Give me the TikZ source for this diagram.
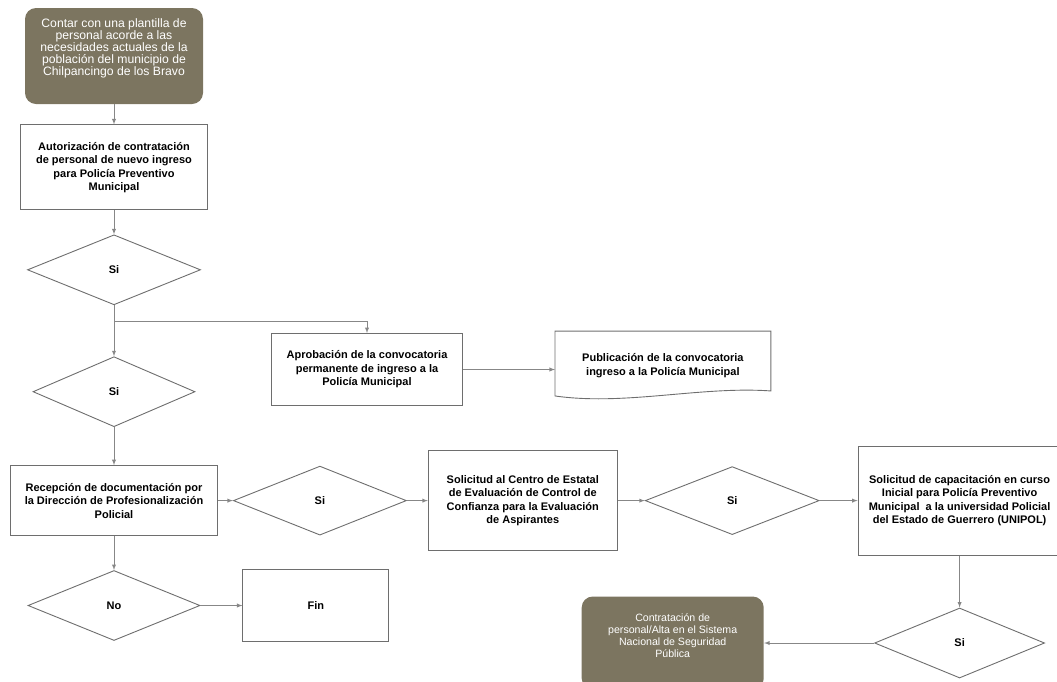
\documentclass[tikz,border=0pt]{standalone}
\usepackage{fontspec}
\setmainfont{Liberation Sans}
\usetikzlibrary{positioning,shapes.geometric}

\definecolor{oliva}{RGB}{124,117,96}
\definecolor{borde}{RGB}{110,110,110}
\definecolor{linea}{RGB}{135,135,135}

\begin{document}
\begin{tikzpicture}[x=1pt,y=-1pt,->,>=latex,node distance=20pt]
    \tikzstyle{every path}=[draw=linea,line width=0.9pt];
    \tikzstyle{caja}=[shape=rectangle,draw=borde,fill=white,align=center,inner sep=2pt,
        font=\bfseries\fontsize{11}{13.5}\selectfont];
    \tikzstyle{decision}=[shape=diamond,draw=borde,fill=white,inner sep=0pt,
        font=\bfseries\fontsize{11}{13}\selectfont];
    \tikzstyle{terminal}=[shape=rectangle,rounded corners=11pt,fill=oliva,text=white,align=center,
        font=\fontsize{12.2}{11.8}\selectfont];

    \path[use as bounding box,draw=none] (0,0) rectangle (1057,681);

    % columna izquierda
    \node[terminal,minimum width=178pt,minimum height=96pt] (inicio) at (114,56)
        {Contar con una plantilla de\\personal acorde a las\\necesidades actuales de la\\poblaci\'on del municipio de\\Chilpancingo de los Bravo\\[6pt]\mbox{}};
    \node[caja,minimum width=187pt,minimum height=85pt] (autoriza) [below=20pt of inicio]
        {Autorizaci\'on de contrataci\'on\\de personal de nuevo ingreso\\para Polic\'ia Preventivo\\Municipal};
    \node[decision,minimum width=173pt,minimum height=70pt] (si1) [below=24pt of autoriza] {Si};
    \node[decision,minimum width=162pt,minimum height=70pt] (si2) [below=51pt of si1] {Si};
    \node[caja,minimum width=207pt,minimum height=70pt] (recibe) [below=38pt of si2]
        {Recepci\'on de documentaci\'on por\\la Direcci\'on de Profesionalizaci\'on\\Policial};
    \node[decision,minimum width=172pt,minimum height=70pt] (no) [below=34pt of recibe] {No};
    \node[caja,minimum width=146pt,minimum height=72pt] (fin) [right=42pt of no] {Fin};

    % convocatoria
    \node[caja,minimum width=191pt,minimum height=72pt] (aprueba) at (367,369.5)
        {Aprobaci\'on de la convocatoria\\permanente de ingreso a la\\Polic\'ia Municipal};
    \node[caja,draw=none,fill=none,minimum width=215pt,minimum height=68pt,yshift=4pt] (publica) [right=92pt of aprueba]
        {Publicaci\'on de la convocatoria\\ingreso a la Polic\'ia Municipal};
    \draw[-,draw=borde] (publica.north west) -- (publica.north east) -- ([yshift=9pt]publica.south east)
        .. controls ([xshift=-70pt,yshift=14pt]publica.south east) and ([xshift=70pt,yshift=-6pt]publica.south west)
        .. ([yshift=4pt]publica.south west) -- cycle;

    % fila de evaluacion
    \node[decision,minimum width=173pt,minimum height=69pt] (si3) [right=15pt of recibe] {Si};
    \node[caja,minimum width=189pt,minimum height=100pt] (solicita) [right=21pt of si3]
        {Solicitud al Centro de Estatal\\de Evaluaci\'on de Control de\\Confianza para la Evaluaci\'on\\de Aspirantes};
    \node[decision,minimum width=174pt,minimum height=68pt] (si4) [right=27pt of solicita] {Si};
    \node[caja,minimum width=203pt,minimum height=109pt] (unipol) [right=38pt of si4]
        {Solicitud de capacitaci\'on en curso\\Inicial para Polic\'ia Preventivo\\Municipal\ \ a la universidad Policial\\del Estado de Guerrero (UNIPOL)};
    \node[decision,minimum width=170pt,minimum height=70pt] (si5) [below=52pt of unipol] {Si};
    \node[terminal,minimum width=182pt,minimum height=93pt,font=\fontsize{10.6}{12}\selectfont] (alta) [left=110pt of si5]
        {Contrataci\'on de\\personal/Alta en el Sistema\\Nacional de Seguridad\\P\'ublica\\[2pt]\mbox{}};

    \coordinate (rama) at ([yshift=-16pt]si1.south);

    \draw (inicio) -- (autoriza);
    \draw (autoriza) -- (si1);
    \draw (si1) -- (si2);
    \draw (rama) -| (aprueba.north);
    \draw (aprueba) -- (aprueba -| publica.west);
    \draw (si2) -- (recibe);
    \draw (recibe) -- (no);
    \draw (no) -- (fin);
    \draw (recibe) -- (si3);
    \draw (si3) -- (solicita);
    \draw (solicita) -- (si4);
    \draw (si4) -- (unipol);
    \draw (unipol) -- (si5);
    \draw (si5) -- (alta);
\end{tikzpicture}
\end{document}
